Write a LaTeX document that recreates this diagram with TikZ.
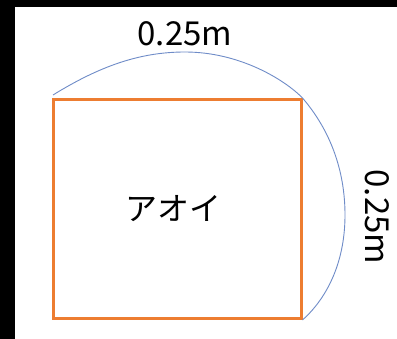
\documentclass[tikz,border=0pt]{standalone}
\usepackage{fontspec}
\setmainfont{Noto Sans CJK JP}
\definecolor{boxorange}{HTML}{ED7D31}
\definecolor{arcblue}{HTML}{6F8CC8}
\begin{document}
\begin{tikzpicture}[x=1pt,y=-1pt,
  boxstyle/.style={draw=boxorange,line width=3pt,minimum width=248pt,minimum height=219pt,inner sep=0pt},
  arcline/.style={draw=arcblue,line width=0.9pt},
  lbl/.style={font=\fontsize{33}{36}\selectfont,inner sep=0pt}]
\useasboundingbox (0,0) rectangle (397,339);
\fill[black] (0,0) rectangle (397,339);
\fill[white] (15,7) rectangle (397,339);
\node[boxstyle] (box) at (177,209) {};
\node[font=\fontsize{32}{36}\selectfont,inner sep=0pt] (name) at (173,208.5) {アオイ};
\node[lbl,anchor=base] (top) at (185,46) {0.25m};
\node[lbl,anchor=base,rotate=-90] (right) at (365,217) {0.25m};
\coordinate (s) at (53,95);
\draw[arcline] (s) .. controls (100,66) and (140,52) .. (185,52)
  .. controls (240,52) and (285,80) .. (box.north east);
\draw[arcline] (box.north east) .. controls (330,130) and (345,170) .. (345,215)
  .. controls (345,265) and (325,300) .. (box.south east);
\end{tikzpicture}
\end{document}
